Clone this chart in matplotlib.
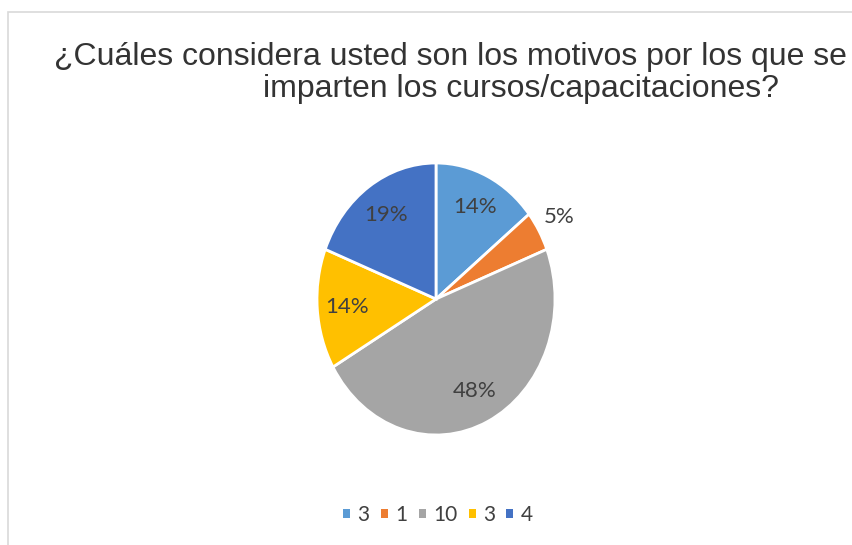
import matplotlib
matplotlib.use("Agg")
import matplotlib.pyplot as plt
from matplotlib.patches import Rectangle, Patch
import numpy as np

title_line1 = "¿Cuáles considera usted son los motivos por los que se"
title_line2 = "imparten los cursos/capacitaciones?"
categories = ["3", "1", "10", "3", "4"]
values = [3, 1, 10, 3, 4]
colors = ["#5B9BD5", "#ED7D31", "#A5A5A5", "#FFC000", "#4472C4"]

W, H = 852, 545
fig = plt.figure(figsize=(W / 100, H / 100), dpi=100)
fig.patch.set_facecolor("white")

# chart border (light gray)
fig.patches.append(Rectangle((8 / W, -0.1), 1.2, (H - 12) / H + 0.1, transform=fig.transFigure,
                             fill=False, edgecolor="#D9D9D9", linewidth=1.2))

fig.text(450 / W, 1 - 57 / H, title_line1, ha="center", va="center", fontsize=23,
         family="Liberation Sans", color="#333333")
fig.text(521 / W, 1 - 89 / H, title_line2, ha="center", va="center", fontsize=23,
         family="Liberation Sans", color="#333333")

cx, cy, rx, ry = 436, 299, 119, 136
ax = fig.add_axes([(cx - rx) / W, (H - cy - ry) / H, 2 * rx / W, 2 * ry / H])
wedges, texts, autotexts = ax.pie(values, colors=colors, startangle=90, counterclock=False,
                                  autopct=lambda p: f"{p:.0f}%", pctdistance=0.75,
                                  wedgeprops=dict(edgecolor="white", linewidth=2),
                                  textprops=dict(fontsize=16, color="#404040", family="Lato"))
ax.set_aspect("auto")
ax.set_xlim(-1, 1)
ax.set_ylim(-1, 1)
for w in wedges:
    w.set_clip_on(False)
for t in autotexts:
    t.set_clip_on(False)
# small slice label placed outside
w = wedges[1]
mid = np.deg2rad((w.theta1 + w.theta2) / 2)
autotexts[1].set_position((1.2 * np.cos(mid), 1.2 * np.sin(mid)))

handles = [Patch(facecolor=c, edgecolor="none") for c in colors]
fig.legend(handles, categories, loc="center", bbox_to_anchor=(438 / W, 1 - 515 / H), ncol=5,
           frameon=False, handlelength=0.33, handleheight=0.33, handletextpad=0.35,
           columnspacing=0.55, prop=dict(family="Lato", size=15), labelcolor="#404040")

fig.savefig("out.png", dpi=100)
